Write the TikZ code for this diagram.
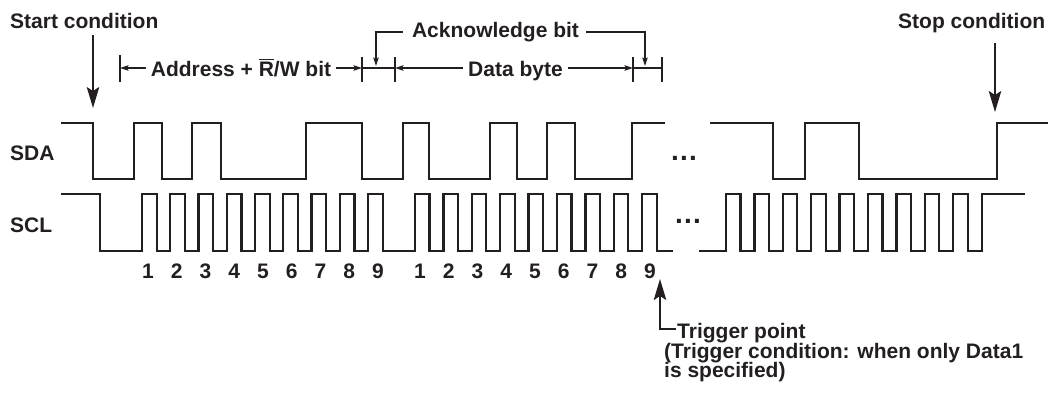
\documentclass[tikz,border=0pt]{standalone}
\usepackage{fontspec}
\setmainfont{Liberation Sans}
\usetikzlibrary{arrows.meta,calc}
\definecolor{ink}{HTML}{231F20}
% R with an overline (active-low read flag)
\newcommand{\barR}{\leavevmode\vbox{\hrule height 1.1pt\kern1.4pt\hbox{R}}}

\begin{document}
\begin{tikzpicture}[x=1pt,y=-1pt,
  every node/.style={font=\fontsize{21}{21}\selectfont\bfseries, text=ink, inner sep=0pt},
  wave/.style={draw=ink, line width=2.3pt, line join=miter},
  dimline/.style={draw=ink, line width=1.1pt},
  smallarrow/.style={dimline, -{Stealth[length=8.5pt,width=5.5pt,inset=1.5pt]}},
  bigarrow/.style={draw=ink, line width=1.4pt, -{Stealth[length=21pt,width=12.5pt,inset=4pt]}},
  dots/.style={font=\fontsize{28}{28}\selectfont\bfseries},
]
\path[use as bounding box] (0,0) rectangle (1058,392);

% ---------- signal names ----------
\node[anchor=base west] (sda) at (10,160) {SDA};
\node[anchor=base west] (scl) at (10,232) {SCL};

% ---------- SDA line ----------
\draw[wave] (61,123) -- (93,123) -- (93,179) -- (134,179) -- (134,123) -- (162,123)
  -- (162,179) -- (192,179) -- (192,123) -- (221,123) -- (221,179) -- (306,179)
  -- (306,123) -- (362,123) -- (362,179) -- (403,179) -- (403,123) -- (429,123)
  -- (429,179) -- (490,179) -- (490,123) -- (517,123) -- (517,179) -- (547,179)
  -- (547,123) -- (575,123) -- (575,179) -- (632,179) -- (632,123) -- (665,123);
\draw[wave] (710,123) -- (773,123) -- (773,179) -- (805,179) -- (805,123) -- (859,123)
  -- (859,179) -- (997,179) -- (997,123) -- (1048,123);
\node[dots, anchor=base] (sdadots) at (684,160) {.\kern1.2pt.\kern1.2pt.};

% ---------- SCL line ----------
\draw[wave] (61,194) -- (100,194) -- (100,251)
  foreach \k in {0,...,8} { -- ({142+28.25*\k},251) -- ({142+28.25*\k},194)
                            -- ({156.8+28.25*\k},194) -- ({156.8+28.25*\k},251) }
  foreach \k in {0,...,8} { -- ({415+28.4*\k},251) -- ({415+28.4*\k},194)
                            -- ({429.5+28.4*\k},194) -- ({429.5+28.4*\k},251) }
  -- (673,251);
\draw[wave] (699,251)
  foreach \k in {0,...,8} { -- ({726+28.4*\k},251) -- ({726+28.4*\k},194)
                            -- ({740.5+28.4*\k},194) -- ({740.5+28.4*\k},251) }
  -- (982,251) -- (982,194) -- (1025,194);
\node[dots, anchor=base] (scldots) at (688,223) {.\kern1.2pt.\kern1.2pt.};

% ---------- clock numbers ----------
\foreach \k in {1,...,9} {
  \node (a\k) at ({148+28.75*(\k-1)},271) {\k};
  \node (d\k) at ({420+28.75*(\k-1)},271) {\k};
}

% ---------- start / stop conditions ----------
\node[anchor=base west] (start) at (10,28) {Start condition};
\coordinate (startTip) at (93,108);
\draw[bigarrow] ($(startTip |- start.south)+(0,7)$) -- (startTip);

\node[anchor=base west] (stop) at (898,28) {Stop condition};
\coordinate (stopTip) at (995,112);
\draw[bigarrow] ($(stopTip |- stop.south)+(0,10)$) -- (stopTip);

% ---------- field markers ----------
\coordinate (b1) at (120,68);
\coordinate (b2) at (362,68);
\coordinate (b3) at (395,68);
\coordinate (b4) at (633,68);
\coordinate (b5) at (662,68);
\draw[dimline] (120,55) -- (120,82);
\foreach \x in {362,395,633,662} \draw[dimline] (\x,57) -- (\x,82);
\draw[dimline] (b2) -- (b3);
\draw[dimline] (b4) -- (b5);

\node[anchor=base] (addr) at (241,76) {Address + \barR/W bit};
\draw[smallarrow] ($(b1 -| addr.west)+(-5,0)$) -- (b1);
\draw[smallarrow] ($(b2 -| addr.east)+(5,0)$) -- (b2);

\node[anchor=base] (data) at (515.5,76) {Data byte};
\draw[smallarrow] ($(b3 -| data.west)+(-5,0)$) -- (b3);
\draw[smallarrow] ($(b4 -| data.east)+(5,0)$) -- (b4);

\node[anchor=base] (ack) at (495.5,37) {Acknowledge bit};
\coordinate (ackL) at (376,66);
\coordinate (ackR) at (645,66);
\coordinate (ackY) at (0,32);
\draw[smallarrow] ($(ackY -| ack.west)+(-9,0)$) -| (ackL);
\draw[smallarrow] ($(ackY -| ack.east)+(7,0)$) -| (ackR);

% ---------- trigger point ----------
\node[anchor=base west] (trig) at (677,338) {Trigger point};
\node[anchor=base west] (cond1) at (664,358) {(Trigger condition: when only Data1};
\node[anchor=base west] (cond2) at (664,377) {is specified)};
\coordinate (trigTip) at (660,279);
\draw[bigarrow] ($(trig.base west)+(-1,-9)$) -| (trigTip);
\end{tikzpicture}
\end{document}
